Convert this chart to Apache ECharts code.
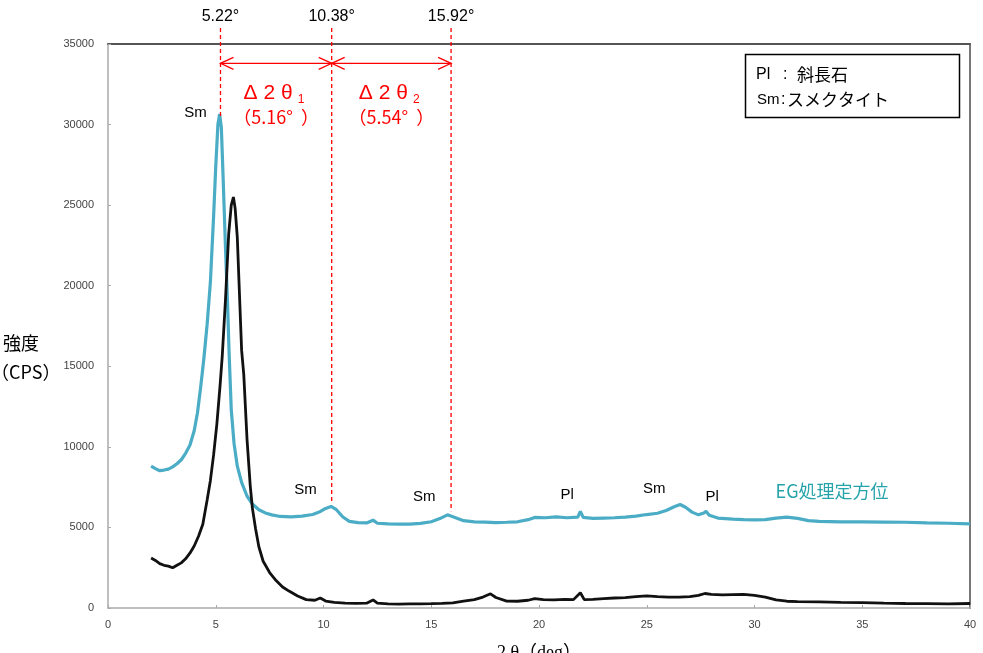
<!DOCTYPE html>
<html><head><meta charset="utf-8">
<script src="https://cdn.jsdelivr.net/npm/echarts@6/dist/echarts.min.js"></script>
<style>html,body{margin:0;padding:0;background:#fff}#c{width:983px;height:653px}</style>
</head><body><div id="c"></div>
<script>
// EG処理定方位 (blue) : [2θ, intensity]
const egData = [
[2.0,8800],[2.2,8650],[2.4,8520],[2.6,8560],[2.8,8620],[3.0,8760],[3.2,8950],[3.4,9200],[3.6,9600],[3.8,10100],
[4.0,11000],[4.15,12100],[4.3,13700],[4.45,15500],[4.6,17600],[4.75,20200],[4.9,24300],[5.0,27400],[5.1,30000],[5.18,30650],
[5.26,29800],[5.34,26800],[5.44,22800],[5.54,19200],[5.62,15800],[5.72,12300],[5.85,10200],[6.0,8800],[6.2,7800],[6.45,6950],
[6.7,6450],[7.0,6100],[7.3,5900],[7.6,5780],[8.0,5680],[8.5,5650],[9.0,5700],[9.5,5800],[9.8,5950],[10.1,6180],
[10.35,6300],[10.6,6100],[10.9,5650],[11.2,5380],[11.6,5300],[12.0,5280],[12.3,5450],[12.5,5260],[13.0,5220],[13.5,5200],
[14.0,5210],[14.5,5250],[15.0,5350],[15.4,5550],[15.75,5780],[16.1,5620],[16.5,5420],[17.0,5350],[17.5,5330],[18.0,5300],
[18.5,5320],[19.0,5350],[19.5,5480],[19.8,5620],[20.3,5600],[20.8,5660],[21.3,5600],[21.8,5640],[21.92,6000],[22.05,5620],
[22.5,5560],[23.0,5580],[23.5,5600],[24.0,5640],[24.5,5700],[25.0,5800],[25.5,5880],[25.9,6050],[26.3,6300],[26.55,6420],
[26.8,6250],[27.1,5950],[27.4,5780],[27.65,5900],[27.75,6000],[27.9,5750],[28.3,5580],[29.0,5520],[29.5,5480],[30.0,5470],
[30.5,5480],[31.0,5580],[31.5,5640],[32.0,5560],[32.5,5420],[33.0,5370],[33.5,5360],[34.0,5350],[35.0,5340],[36.0,5330],
[37.0,5320],[38.0,5280],[39.0,5260],[40.0,5220]
];
// untreated (black) : [2θ, intensity]
const rawData = [
[2.0,3100],[2.2,2950],[2.4,2750],[2.6,2650],[2.8,2600],[3.0,2500],[3.2,2650],[3.4,2800],[3.6,3050],[3.8,3400],
[4.0,3850],[4.2,4450],[4.4,5200],[4.6,6700],[4.75,7900],[4.9,9500],[5.05,11400],[5.2,13800],[5.3,15600],[5.45,19100],
[5.6,23200],[5.72,25000],[5.82,25500],[5.9,24800],[6.0,23000],[6.1,19500],[6.2,16000],[6.3,14500],[6.45,10500],[6.6,7600],
[6.7,6200],[6.85,4900],[7.0,3800],[7.2,2900],[7.5,2200],[7.8,1700],[8.1,1300],[8.4,1050],[8.8,750],[9.2,520],
[9.6,480],[9.85,620],[10.1,430],[10.5,350],[11.0,300],[11.5,290],[12.0,300],[12.3,500],[12.5,300],[13.0,250],
[13.5,240],[14.0,260],[14.5,260],[15.0,270],[15.5,290],[16.0,320],[16.5,420],[17.0,520],[17.4,680],[17.75,880],
[18.0,650],[18.5,430],[19.0,420],[19.5,480],[19.8,580],[20.2,520],[20.7,500],[21.2,540],[21.6,520],[21.92,950],
[22.1,520],[22.5,530],[23.0,580],[23.5,620],[24.0,640],[24.5,700],[25.0,750],[25.5,700],[26.0,680],[26.5,670],
[27.0,700],[27.4,780],[27.7,900],[28.0,840],[28.5,820],[29.0,830],[29.5,840],[30.0,780],[30.5,680],[31.0,500],
[31.5,420],[32.0,400],[33.0,380],[34.0,350],[35.0,330],[36.0,300],[37.0,280],[38.0,270],[39.0,260],[40.0,280]
];
// reference peak positions (2θ) and their dashed-line end intensities
const refPeaks = [5.22, 10.38, 15.92];
const refPeakLabels = ['5.22°', '10.38°', '15.92°'];
const refPeakEnds = [30400, 6500, 6000];
const deltaLabels = ['（5.16°  ）', '（5.54°  ）'];
const deltaSubs = ['1', '2'];
const arrowLevel = 33800;
// mineral annotations: [label, 2θ, intensity]
const mineralNotes = [
['Sm', 4.06, 30720], ['Sm', 9.16, 7320], ['Sm', 14.68, 6890],
['Pl', 21.31, 7010], ['Sm', 25.35, 7380], ['Pl', 28.04, 6890]
];
const seriesNote = ['EG処理定方位', 33.6, 7260];

const chart = echarts.init(document.getElementById('c'), null, {renderer:'canvas'});
const gray = '#aaa';
chart.setOption({
  animation:false,
  grid:{left:108,right:13,top:44,bottom:45,containLabel:false,outerBoundsMode:'none'},
  xAxis:[{
    type:'value',min:0,max:40,interval:5,
    axisLine:{show:true,onZero:false,lineStyle:{color:gray,width:1.5}},
    axisTick:{show:true,inside:true,length:3,lineStyle:{color:gray}},
    axisLabel:{color:'#444',fontSize:11,margin:11,fontFamily:'Liberation Sans'},
    splitLine:{show:false},
    name:'2 θ（deg）',nameLocation:'middle',nameGap:36,
    nameTextStyle:{color:'#000',fontSize:18,fontFamily:'Liberation Serif, Noto Sans CJK JP'}
  },{
    type:'value',position:'top',min:0,max:40,
    axisLine:{show:true,onZero:false,lineStyle:{color:'#555',width:2}},
    axisTick:{show:false},axisLabel:{show:false},splitLine:{show:false}
  }],
  yAxis:[{
    type:'value',min:0,max:35000,interval:5000,
    axisLine:{show:true,onZero:false,lineStyle:{color:gray,width:1.5}},
    axisTick:{show:true,inside:true,length:3,lineStyle:{color:gray}},
    axisLabel:{color:'#444',fontSize:11,margin:14,fontFamily:'Liberation Sans',formatter:v=>String(v)},
    splitLine:{show:false}
  },{
    type:'value',position:'right',min:0,max:35000,
    axisLine:{show:true,onZero:false,lineStyle:{color:'#777',width:2}},
    axisTick:{show:false},axisLabel:{show:false},splitLine:{show:false}
  }],
  series:[
    {type:'line',data:egData,showSymbol:false,symbol:'none',z:2,
     lineStyle:{color:'#4bacc6',width:3.2}},
    {type:'line',data:rawData,showSymbol:false,symbol:'none',z:3,
     lineStyle:{color:'#111',width:2.8}}
  ]
});

const px = (x,y) => chart.convertToPixel({xAxisIndex:0,yAxisIndex:0},[x,y]);
const g = [];
const red = '#ff0000';
refPeaks.forEach((p,i)=>{
  const b = px(p, refPeakEnds[i]);
  g.push({type:'line',shape:{x1:b[0],y1:28,x2:b[0],y2:b[1]},style:{stroke:red,lineWidth:1.3,lineDash:[4,3]},z:10});
  g.push({type:'text',x:b[0],y:17,style:{text:refPeakLabels[i],fill:'#000',font:'16px "Liberation Sans", Arial',align:'center',verticalAlign:'middle'},z:10});
});
for(let i=0;i<2;i++){
  const a = px(refPeaks[i], arrowLevel), b = px(refPeaks[i+1], arrowLevel);
  const y = a[1];
  g.push({type:'line',shape:{x1:a[0],y1:y,x2:b[0],y2:y},style:{stroke:red,lineWidth:1.3},z:10});
  g.push({type:'polyline',shape:{points:[[a[0]+13,y-6],[a[0],y],[a[0]+13,y+6]]},style:{stroke:red,lineWidth:1.3,fill:null},z:10});
  g.push({type:'polyline',shape:{points:[[b[0]-13,y-6],[b[0],y],[b[0]-13,y+6]]},style:{stroke:red,lineWidth:1.3,fill:null},z:10});
  const mx = (a[0]+b[0])/2;
  g.push({type:'text',x:mx-8,y:93,style:{text:'Δ 2 θ',fill:red,font:'21px "Liberation Sans", Arial',align:'center',verticalAlign:'middle'},z:10});
  g.push({type:'text',x:mx+25,y:100,style:{text:deltaSubs[i],fill:red,font:'12px "Liberation Sans", Arial',align:'center',verticalAlign:'middle'},z:10});
  g.push({type:'text',x:mx,y:117,style:{text:deltaLabels[i],fill:red,font:'18px "Noto Sans CJK JP"',align:'center',verticalAlign:'middle'},z:10});
}
mineralNotes.forEach(n=>{
  const p = px(n[1], n[2]);
  g.push({type:'text',x:p[0],y:p[1],style:{text:n[0],fill:'#000',font:'15px "Liberation Sans", Arial',align:'center',verticalAlign:'middle'},z:10});
});
{
  const p = px(seriesNote[1], seriesNote[2]);
  g.push({type:'text',x:p[0],y:p[1],style:{text:seriesNote[0],fill:'#26a4aa',font:'18px "Noto Sans CJK JP"',align:'center',verticalAlign:'middle'},z:10});
}
g.push({type:'rect',shape:{x:745.5,y:54.5,width:214,height:63},style:{fill:'#fff',stroke:'#000',lineWidth:1.5},z:10});
g.push({type:'text',x:756,y:75,style:{text:'Pl',fill:'#000',font:'16px "Liberation Sans", Arial',verticalAlign:'middle'},z:11});
g.push({type:'text',x:783,y:75,style:{text:':',fill:'#000',font:'16px "Liberation Sans", Arial',verticalAlign:'middle'},z:11});
g.push({type:'text',x:797,y:75,style:{text:'斜長石',fill:'#000',font:'17px "Noto Sans CJK JP"',verticalAlign:'middle'},z:11});
g.push({type:'text',x:757,y:100,style:{text:'Sm',fill:'#000',font:'15px "Liberation Sans", Arial',verticalAlign:'middle'},z:11});
g.push({type:'text',x:781,y:100,style:{text:':',fill:'#000',font:'16px "Liberation Sans", Arial',verticalAlign:'middle'},z:11});
g.push({type:'text',x:787,y:100,style:{text:'スメクタイト',fill:'#000',font:'17px "Noto Sans CJK JP"',verticalAlign:'middle'},z:11});
g.push({type:'text',x:3,y:343,style:{text:'強度',fill:'#000',font:'18px "Noto Sans CJK JP"',verticalAlign:'middle'},z:11});
g.push({type:'text',x:-9,y:372,style:{text:'（CPS）',fill:'#000',font:'18px "Noto Sans CJK JP"',verticalAlign:'middle'},z:11});
chart.setOption({graphic:g});
</script></body></html>
